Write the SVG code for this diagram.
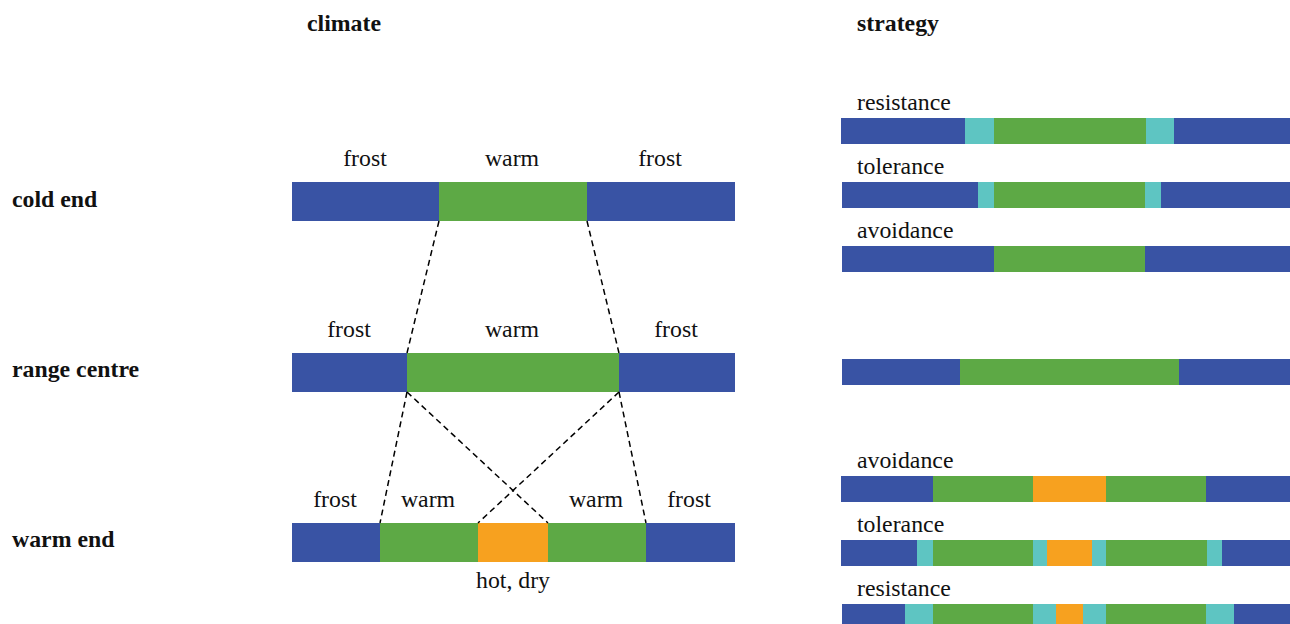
<svg xmlns="http://www.w3.org/2000/svg" width="1290" height="624" viewBox="0 0 1290 624">
<style>
.b{fill:#3953A4}.g{fill:#5DA945}.t{fill:#5EC5C2}.o{fill:#F7A11F}
text{font-family:'Liberation Serif','DejaVu Serif','Times New Roman',Times,serif;font-size:23.8px;fill:#111}
.h{font-weight:bold}
.c{text-anchor:middle}
.d{stroke:#000;stroke-width:1.5;stroke-dasharray:6 4;fill:none}
</style>
<rect width="1290" height="624" fill="#fff"/>
<g id="headers">
<text class="h" x="307" y="31">climate</text>
<text class="h" x="857" y="31">strategy</text>
</g>
<g id="row-labels">
<text class="h" x="12" y="207">cold end</text>
<text class="h" x="12" y="377">range centre</text>
<text class="h" x="12" y="547">warm end</text>
</g>
<g id="cold-end">
<rect class="b" x="292" y="182" width="147" height="39"/>
<rect class="g" x="439" y="182" width="148" height="39"/>
<rect class="b" x="587" y="182" width="148" height="39"/>
<text class="c" x="365" y="166">frost</text>
<text class="c" x="512" y="166">warm</text>
<text class="c" x="660" y="166">frost</text>
</g>
<g id="range-centre">
<rect class="b" x="292" y="353" width="115" height="39"/>
<rect class="g" x="407" y="353" width="212" height="39"/>
<rect class="b" x="619" y="353" width="116" height="39"/>
<text class="c" x="349" y="337">frost</text>
<text class="c" x="512" y="337">warm</text>
<text class="c" x="676" y="337">frost</text>
</g>
<g id="warm-end">
<rect class="b" x="292" y="523" width="88" height="39"/>
<rect class="g" x="380" y="523" width="98" height="39"/>
<rect class="o" x="478" y="523" width="70" height="39"/>
<rect class="g" x="548" y="523" width="98" height="39"/>
<rect class="b" x="646" y="523" width="89" height="39"/>
<text class="c" x="335" y="507">frost</text>
<text class="c" x="428" y="507">warm</text>
<text class="c" x="596" y="507">warm</text>
<text class="c" x="689" y="507">frost</text>
<text class="c" x="513" y="588">hot, dry</text>
</g>
<g id="connectors">
<line class="d" x1="439" y1="221" x2="407" y2="353"/>
<line class="d" x1="587" y1="221" x2="619" y2="353"/>
<line class="d" x1="407" y1="392" x2="380" y2="523"/>
<line class="d" x1="407" y1="392" x2="548" y2="523"/>
<line class="d" x1="619" y1="392" x2="478" y2="523"/>
<line class="d" x1="619" y1="392" x2="646" y2="523"/>
</g>
<g id="cold-resistance">
<text x="857" y="110">resistance</text>
<rect class="b" x="841" y="118" width="124" height="26"/>
<rect class="t" x="965" y="118" width="29" height="26"/>
<rect class="g" x="994" y="118" width="152" height="26"/>
<rect class="t" x="1146" y="118" width="28" height="26"/>
<rect class="b" x="1174" y="118" width="116" height="26"/>
</g>
<g id="cold-tolerance">
<text x="857" y="174">tolerance</text>
<rect class="b" x="842" y="182" width="136" height="26"/>
<rect class="t" x="978" y="182" width="16" height="26"/>
<rect class="g" x="994" y="182" width="151" height="26"/>
<rect class="t" x="1145" y="182" width="16" height="26"/>
<rect class="b" x="1161" y="182" width="129" height="26"/>
</g>
<g id="cold-avoidance">
<text x="857" y="238">avoidance</text>
<rect class="b" x="842" y="246" width="152" height="26"/>
<rect class="g" x="994" y="246" width="151" height="26"/>
<rect class="b" x="1145" y="246" width="145" height="26"/>
</g>
<g id="centre-strategy">
<rect class="b" x="842" y="359" width="118" height="26"/>
<rect class="g" x="960" y="359" width="219" height="26"/>
<rect class="b" x="1179" y="359" width="111" height="26"/>
</g>
<g id="warm-avoidance">
<text x="857" y="468">avoidance</text>
<rect class="b" x="841" y="476" width="92" height="26"/>
<rect class="g" x="933" y="476" width="100" height="26"/>
<rect class="o" x="1033" y="476" width="73" height="26"/>
<rect class="g" x="1106" y="476" width="100" height="26"/>
<rect class="b" x="1206" y="476" width="84" height="26"/>
</g>
<g id="warm-tolerance">
<text x="857" y="532">tolerance</text>
<rect class="b" x="841" y="540" width="76" height="26"/>
<rect class="t" x="917" y="540" width="16" height="26"/>
<rect class="g" x="933" y="540" width="100" height="26"/>
<rect class="t" x="1033" y="540" width="14" height="26"/>
<rect class="o" x="1047" y="540" width="45" height="26"/>
<rect class="t" x="1092" y="540" width="14" height="26"/>
<rect class="g" x="1106" y="540" width="101" height="26"/>
<rect class="t" x="1207" y="540" width="15" height="26"/>
<rect class="b" x="1222" y="540" width="68" height="26"/>
</g>
<g id="warm-resistance">
<text x="857" y="596">resistance</text>
<rect class="b" x="842" y="604" width="63" height="20"/>
<rect class="t" x="905" y="604" width="28" height="20"/>
<rect class="g" x="933" y="604" width="100" height="20"/>
<rect class="t" x="1033" y="604" width="23" height="20"/>
<rect class="o" x="1056" y="604" width="27" height="20"/>
<rect class="t" x="1083" y="604" width="23" height="20"/>
<rect class="g" x="1106" y="604" width="100" height="20"/>
<rect class="t" x="1206" y="604" width="28" height="20"/>
<rect class="b" x="1234" y="604" width="56" height="20"/>
</g>
</svg>
